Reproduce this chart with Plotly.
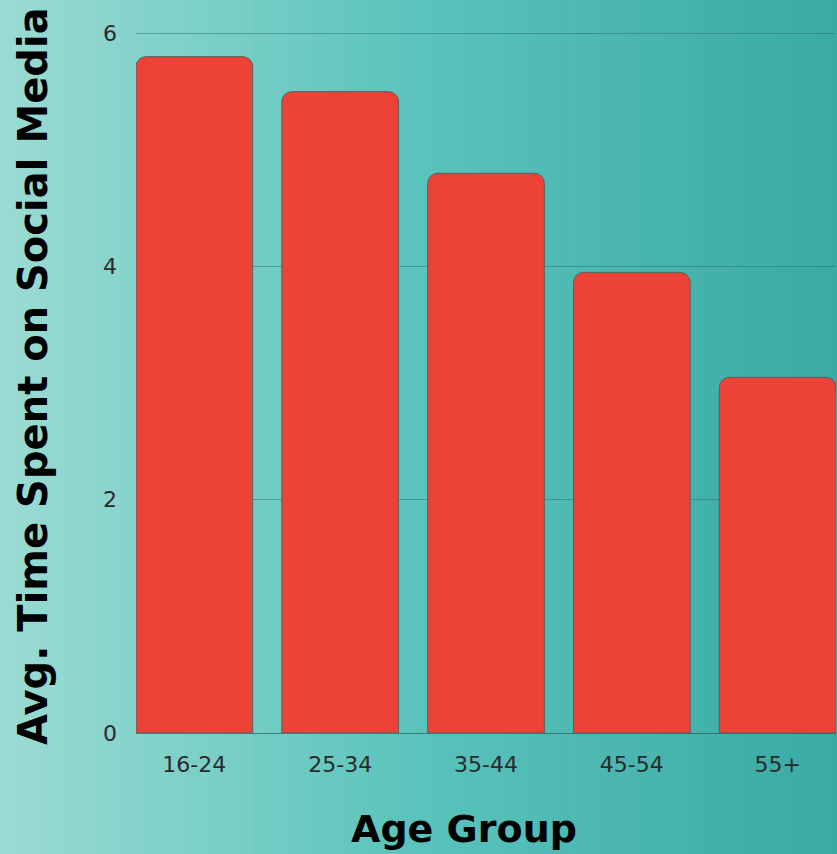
import plotly.graph_objects as go

# Average daily hours on social media by age group
age_groups = ["16-24", "25-34", "35-44", "45-54", "55+"]
avg_hours = [5.8, 5.5, 4.8, 3.95, 3.05]
y_ticks = [0, 2, 4, 6]

W, H = 837, 854
M_L, M_R, M_T, M_B = 136, 1, 10, 121
plot_w = W - M_L - M_R
plot_h = H - M_T - M_B


def lerp_color(c1, c2, t):
    return "rgb({},{},{})".format(*[round(a + (b - a) * t) for a, b in zip(c1, c2)])


def px_to_paper_x(px):
    return (px - M_L) / plot_w


def px_to_paper_y(py):
    return (H - M_B - py) / plot_h


# Teal backdrop: a horizontal gradient built from thin strips behind the plot
x_start, x_end = px_to_paper_x(0), px_to_paper_x(W)
y_start, y_end = px_to_paper_y(H), px_to_paper_y(0)
left_col = (154, 219, 211)
mid_col = (90, 195, 187)
right_col = (58, 170, 164)
n_strips = 90
shapes = []
for i in range(n_strips):
    t = i / (n_strips - 1)
    if t < 0.5:
        col = lerp_color(left_col, mid_col, t / 0.5)
    else:
        col = lerp_color(mid_col, right_col, (t - 0.5) / 0.5)
    x0 = x_start + (x_end - x_start) * i / n_strips
    x1 = x_start + (x_end - x_start) * (i + 1) / n_strips + 0.002
    shapes.append(dict(type="rect", xref="paper", yref="paper",
                       x0=x0, x1=x1, y0=y_start, y1=y_end,
                       fillcolor=col, line=dict(width=0), layer="below"))

fig = go.Figure(
    go.Bar(
        x=age_groups,
        y=avg_hours,
        marker=dict(color="#ec4237", line=dict(color="#5a5f5c", width=1),
                    cornerradius=10),
        width=0.8,
        hoverinfo="x+y",
    )
)

title_font = dict(family="DejaVu Sans", size=40, color="#000000", weight="bold")
tick_font = dict(family="DejaVu Sans", size=22, color="#2a2a2a")

fig.update_layout(
    width=W,
    height=H,
    margin=dict(l=M_L, r=M_R, t=M_T, b=M_B),
    paper_bgcolor="rgb(100,196,188)",
    plot_bgcolor="rgba(0,0,0,0)",
    shapes=shapes,
    showlegend=False,
    font=dict(family="DejaVu Sans", color="#2a2a2a"),
    annotations=[
        dict(text="Age Group", xref="paper", yref="paper",
             x=px_to_paper_x(464), y=px_to_paper_y(829),
             xanchor="center", yanchor="middle", showarrow=False,
             font=dict(title_font, size=38)),
        dict(text="Avg. Time Spent on Social Media", xref="paper", yref="paper",
             x=px_to_paper_x(33), y=px_to_paper_y(376), textangle=-90,
             xanchor="center", yanchor="middle", showarrow=False,
             font=title_font),
    ],
)

fig.update_xaxes(
    range=[-0.4, 4.4],
    showgrid=False,
    showline=False,
    ticks="",
    ticklabelstandoff=16,
    tickfont=tick_font,
)

fig.update_yaxes(
    range=[0, 6.2],
    tickvals=y_ticks,
    ticktext=[str(v) for v in y_ticks],
    showgrid=True,
    gridcolor="rgba(40,110,105,0.5)",
    gridwidth=1,
    zeroline=True,
    zerolinecolor="rgba(40,90,88,0.7)",
    zerolinewidth=1,
    ticks="",
    ticklabelstandoff=18,
    tickfont=tick_font,
)

fig.write_html("out.html")
